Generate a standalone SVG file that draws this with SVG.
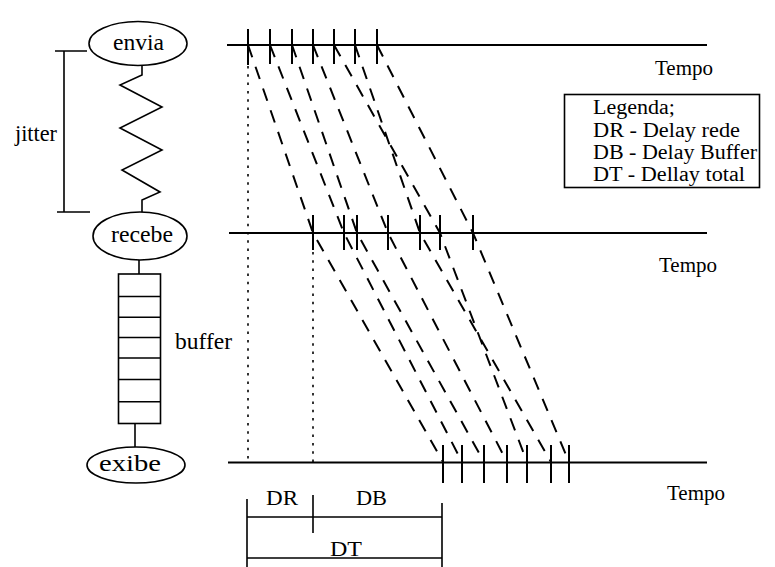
<svg xmlns="http://www.w3.org/2000/svg" width="775" height="567" viewBox="0 0 775 567">
<style>
text{font-family:"Liberation Serif","DejaVu Serif",serif;fill:#000}
.lbl{font-size:24px}
.tempo{font-size:21px}
.leg{font-size:20px}
.dim{font-size:21px}
.shape{fill:#fff;stroke:#000;stroke-width:1.6}
.ln{stroke:#000;stroke-width:1.6;fill:none}
.axis{stroke:#000;stroke-width:2;fill:none}
.tick{stroke:#000;stroke-width:2}
.dash{stroke:#000;stroke-width:2;fill:none;stroke-dasharray:13,10}
.dot{stroke:#000;stroke-width:1.6;fill:none;stroke-dasharray:2.5,5.8}
</style>
<rect width="775" height="567" fill="#fff"/>

<g id="connectors">
  <polyline class="ln" points="142,65 142,75 120,85 162,107 120,128 162,150 122,170 160,192 142,200 142,212"/>
  <line class="ln" x1="139" y1="260" x2="139" y2="274"/>
  <line class="ln" x1="135" y1="423" x2="135" y2="447"/>
</g>

<g id="envia">
  <ellipse class="shape" cx="138" cy="43.5" rx="49" ry="22"/>
  <text class="lbl" x="113" y="50" textLength="51" lengthAdjust="spacingAndGlyphs">envia</text>
</g>
<g id="recebe">
  <ellipse class="shape" cx="140" cy="236" rx="47" ry="24"/>
  <text class="lbl" x="111" y="242" textLength="62" lengthAdjust="spacingAndGlyphs">recebe</text>
</g>
<g id="buffer">
  <rect class="shape" x="118.5" y="274" width="42" height="149.5"/>
  <path class="ln" d="M118.5,296.5H160.5M118.5,317.3H160.5M118.5,337.5H160.5M118.5,358H160.5M118.5,379.5H160.5M118.5,401.7H160.5"/>
  <text class="lbl" x="175" y="349" textLength="57" lengthAdjust="spacingAndGlyphs">buffer</text>
</g>
<g id="exibe">
  <ellipse class="shape" cx="136" cy="465" rx="49" ry="18"/>
  <text class="lbl" x="99" y="471" textLength="62" lengthAdjust="spacingAndGlyphs">exibe</text>
</g>
<g id="jitter">
  <path class="ln" d="M55,51H87M64,51V212M57,212H90"/>
  <text class="lbl" x="15" y="141" textLength="42" lengthAdjust="spacingAndGlyphs">jitter</text>
</g>

<g id="timelines">
  <line class="axis" x1="227" y1="45" x2="707" y2="45"/>
  <line class="axis" x1="229" y1="233" x2="707" y2="233"/>
  <line class="axis" x1="228" y1="462.5" x2="707" y2="462.5"/>
  <path class="tick" d="M248,29V65M270,29V64M292,29V64M313,29V64M334,29V64M355,29V64M377,29V64"/>
  <path class="tick" d="M313,215V250M344,215V250M357,215V250M388,215V250M420,215V250M440,215V250M473,215V250"/>
  <path class="tick" d="M443,445V483M462,445V483M484,445V483M507,445V483M527,445V483M551,445V483M569,445V483"/>
  <text class="tempo" x="655" y="75">Tempo</text>
  <text class="tempo" x="659" y="272">Tempo</text>
  <text class="tempo" x="667" y="500">Tempo</text>
</g>

<g id="packets">
  <polyline class="dash" points="248,45 313,233 443,462"/>
  <polyline class="dash" points="270,45 344,233 462,462"/>
  <polyline class="dash" points="292,45 357,233 484,462"/>
  <polyline class="dash" points="313,45 388,233 507,462"/>
  <polyline class="dash" points="334,45 440,233 527,462"/>
  <polyline class="dash" points="355,45 420,233 551,462"/>
  <polyline class="dash" points="377,45 473,233 569,462"/>
  <line class="dot" x1="248" y1="66" x2="248" y2="462"/>
  <line class="dot" x1="313" y1="252" x2="313" y2="462"/>
</g>

<g id="legend">
  <rect class="shape" x="564.5" y="94.5" width="195" height="93"/>
  <text class="leg" x="593" y="114" textLength="82" lengthAdjust="spacingAndGlyphs">Legenda;</text>
  <text class="leg" x="593" y="137" textLength="147" lengthAdjust="spacingAndGlyphs">DR - Delay rede</text>
  <text class="leg" x="593" y="159" textLength="164" lengthAdjust="spacingAndGlyphs">DB - Delay Buffer</text>
  <text class="leg" x="593" y="181" textLength="152" lengthAdjust="spacingAndGlyphs">DT - Dellay total</text>
</g>

<g id="dimensions">
  <path class="ln" d="M247,517H442M247,558H442M247,499V567M313,495V533M442,503V567"/>
  <text class="dim" x="266" y="505" textLength="32" lengthAdjust="spacingAndGlyphs">DR</text>
  <text class="dim" x="356" y="505" textLength="31" lengthAdjust="spacingAndGlyphs">DB</text>
  <text class="dim" x="330" y="556" textLength="32" lengthAdjust="spacingAndGlyphs">DT</text>
</g>
</svg>
